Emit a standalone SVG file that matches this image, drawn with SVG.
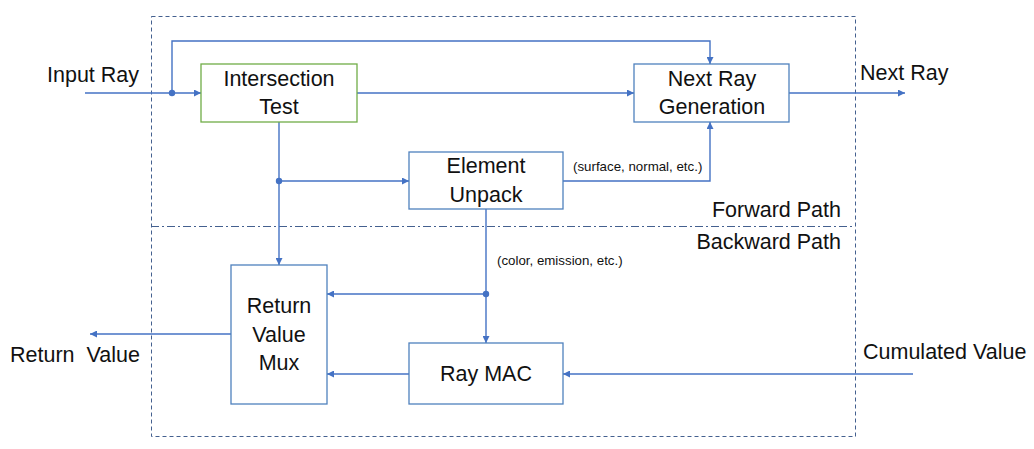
<svg xmlns="http://www.w3.org/2000/svg" width="1034" height="449" viewBox="0 0 1034 449">
<style>
.t{font-family:"Liberation Sans",Arial,sans-serif;font-size:21.5px;fill:#111}
.s{font-family:"Liberation Sans",Arial,sans-serif;font-size:13.3px;fill:#111}
.box{fill:#fff;stroke:#4F81BD;stroke-width:1.3}
.c{fill:none;stroke:#4472C4;stroke-width:1.4}
.a{marker-end:url(#arr)}
.frame{fill:none;stroke:#44608F;stroke-width:1;stroke-dasharray:4 3}
</style>
<defs>
<marker id="arr" viewBox="0 0 10 10" refX="10" refY="5" markerWidth="7" markerHeight="7" markerUnits="userSpaceOnUse" orient="auto">
<path d="M0,0 L10,5 L0,10 z" fill="#4472C4"/>
</marker>
</defs>
<rect width="1034" height="449" fill="#fff"/>
<g id="frame">
<rect class="frame" x="151.5" y="16.5" width="704" height="420"/>
<line x1="151" y1="226.5" x2="855" y2="226.5" stroke="#44608F" stroke-width="1" stroke-dasharray="8 3 2 3"/>
<text class="t" x="841" y="217" text-anchor="end">Forward Path</text>
<text class="t" x="841" y="249" text-anchor="end">Backward Path</text>
</g>
<g id="connectors">
<polyline class="c a" points="85,93 201,93"/>
<polyline class="c a" points="172,93 172,41 710,41 710,64"/>
<polyline class="c a" points="357,93 634,93"/>
<polyline class="c a" points="789,93 905,93"/>
<polyline class="c a" points="279,122 279,265"/>
<polyline class="c a" points="279,181 409,181"/>
<polyline class="c a" points="563,181 710,181 710,122"/>
<polyline class="c a" points="486,209 486,343"/>
<polyline class="c a" points="486,294 327,294"/>
<polyline class="c a" points="409,374 327,374"/>
<polyline class="c a" points="913,374 563,374"/>
<polyline class="c a" points="231,334 90,334"/>
<circle cx="172" cy="93" r="3.2" fill="#4472C4"/>
<circle cx="279" cy="181" r="3.2" fill="#4472C4"/>
<circle cx="486" cy="294" r="3.2" fill="#4472C4"/>
<text class="s" x="573" y="171">(surface, normal, etc.)</text>
<text class="s" x="497" y="265">(color, emission, etc.)</text>
</g>
<g id="input-ray"><text class="t" x="47" y="82">Input Ray</text></g>
<g id="next-ray-out"><text class="t" x="860" y="80">Next Ray</text></g>
<g id="return-value-out"><text class="t" x="10" y="362" xml:space="preserve">Return  Value</text></g>
<g id="cumulated-value"><text class="t" x="863" y="359">Cumulated Value</text></g>
<g id="intersection-test">
<rect class="box" x="201" y="64" width="156" height="58" style="stroke:#70AD47"/>
<text class="t" x="279" y="86" text-anchor="middle">Intersection</text>
<text class="t" x="279" y="114" text-anchor="middle">Test</text>
</g>
<g id="next-ray-generation">
<rect class="box" x="634" y="64" width="155" height="58"/>
<text class="t" x="712" y="86" text-anchor="middle">Next Ray</text>
<text class="t" x="712" y="114" text-anchor="middle">Generation</text>
</g>
<g id="element-unpack">
<rect class="box" x="409" y="152" width="154" height="57"/>
<text class="t" x="486" y="173" text-anchor="middle">Element</text>
<text class="t" x="486" y="202" text-anchor="middle">Unpack</text>
</g>
<g id="return-value-mux">
<rect class="box" x="231" y="265" width="96" height="139"/>
<text class="t" x="279" y="313" text-anchor="middle">Return</text>
<text class="t" x="279" y="342" text-anchor="middle">Value</text>
<text class="t" x="279" y="370" text-anchor="middle">Mux</text>
</g>
<g id="ray-mac">
<rect class="box" x="409" y="343" width="154" height="61"/>
<text class="t" x="486" y="381" text-anchor="middle">Ray MAC</text>
</g>
</svg>
